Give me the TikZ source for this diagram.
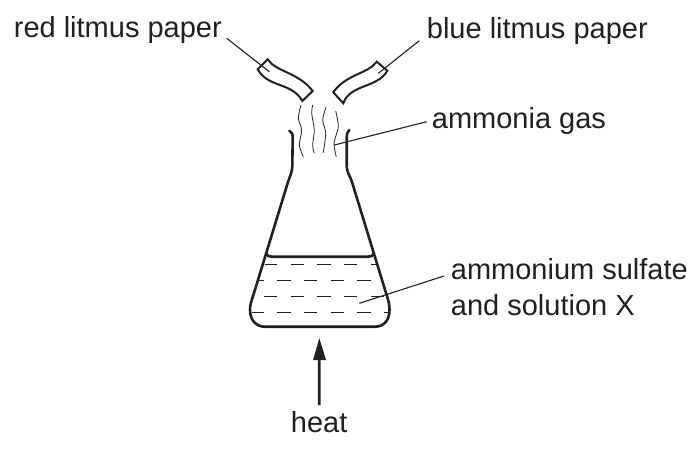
\documentclass[tikz,border=0pt]{standalone}
\usepackage{fontspec}
\setmainfont{Liberation Sans}
\definecolor{inkblack}{HTML}{231F20}
\begin{document}
\begin{tikzpicture}[x=1pt,y=-1pt,
    wall/.style={inkblack,line width=2.6pt,line cap=round,line join=round},
    strip/.style={inkblack,line width=2pt,line join=miter},
    leader/.style={inkblack,line width=1.1pt},
    dashln/.style={inkblack,line width=1pt},
    wisp/.style={inkblack,line width=0.8pt},
    lbl/.style={inkblack,inner sep=0pt,font=\fontsize{29}{36}\selectfont,align=left}]
  \useasboundingbox (0,0) rectangle (700,450);
  %-------------------------------------------------- labels
  \node[lbl,anchor=base east] (lblred) at (222,37.3) {red litmus paper};
  \node[lbl,anchor=base west] (lblblue) at (426.7,38.3) {blue litmus paper};
  \node[lbl,anchor=base west] (lblgas) at (431.7,128.3) {ammonia gas};
  \node[lbl,anchor=west] (lblsol) at (450.7,287) {ammonium sulfate\\and solution X};
  \node[lbl,anchor=base] (lblheat) at (319.2,432.7) {heat};
  %-------------------------------------------------- litmus strips
  \draw[strip] (257.7,69.3) -- (267.7,59.3)
    .. controls (276,72) and (298,72) .. (312.7,91)
    -- (302.3,101)
    .. controls (292,82) and (268,88) .. cycle;
  \draw[strip] (387.3,70.7) -- (376.7,61.7)
    .. controls (368,74) and (346,74) .. (333.3,92.3)
    -- (343.3,103.3)
    .. controls (350,84) and (378,88) .. cycle;
  %-------------------------------------------------- flask
  \draw[wall] (289.3,130.7) .. controls (292,132) and (292.7,134) .. (292.7,138)
    -- (292.3,166) .. controls (292.3,172) and (290,176) .. (288,182)
    -- (254,293) .. controls (251,302) and (250,305) .. (250,310)
    .. controls (250,320) and (256,326.7) .. (265,326.7)
    -- (375,326.7) .. controls (384,326.7) and (389.5,320) .. (389.5,310)
    .. controls (389.5,305) and (389,302) .. (386,293)
    -- (352,182) .. controls (350,176) and (346.7,172) .. (346.7,166)
    -- (346.7,138) .. controls (346.7,134) and (347.5,132) .. (349.3,130);
  % surface of the liquid
  \draw[wall] (266,253.3) .. controls (267,256) and (269,256.7) .. (272,256.7)
    -- (368,256.7) .. controls (371,256.7) and (373,256) .. (374,253.3);
  \foreach \yy in {264.3,296.3}{
    \draw[dashln] (290.7,\yy) -- +(13.3,0) (317.3,\yy) -- +(13.3,0) (344,\yy) -- +(13.3,0);
  }
  \draw[dashln] (265,264.3) -- +(12.3,0) (371,264.3) -- +(5,0);
  \draw[dashln] (264,296.3) -- +(13.3,0) (371,296.3) -- +(13,0);
  \foreach \yy in {280.7,312.3}{
    \draw[dashln] (277.3,\yy) -- +(13.3,0) (304,\yy) -- +(13.3,0)
      (330.7,\yy) -- +(13.3,0) (357.3,\yy) -- +(13.3,0);
  }
  \draw[dashln] (258.3,280.7) -- +(5.7,0);
  \draw[dashln] (251.7,312.3) -- +(12.3,0) (384,312.3) -- +(4.3,0);
  %-------------------------------------------------- ammonia gas
  \draw[wisp] plot[smooth] coordinates {(301,105) (298.3,118.3) (301.7,130) (299.3,145) (303.3,156.7)};
  \draw[wisp] plot[smooth] coordinates {(312.7,105) (311.7,113.3) (314.3,130) (312.7,145) (314.3,153.3)};
  \draw[wisp] plot[smooth] coordinates {(326,107.3) (322.7,120) (325.7,133.3) (323.3,152.7)};
  \draw[wisp] plot[smooth] coordinates {(335.7,111) (338.3,126.7) (334,143.3) (336.3,156.7)};
  %-------------------------------------------------- leaders and arrow
  \coordinate (redend) at (269.3,71.7);
  \coordinate (blueend) at (378.3,73.3);
  \coordinate (gasend) at (334.3,145);
  \coordinate (solend) at (359.3,303.3);
  \coordinate (heatend) at (319.3,338.3);
  \draw[leader] ([xshift=4.7pt,yshift=-1pt]lblred.base east) -- (redend);
  \draw[leader] ([xshift=-7.4pt,yshift=-2.4pt]lblblue.base west) -- (blueend);
  \draw[leader] ([xshift=-5pt,yshift=6.6pt]lblgas.base west) -- (gasend);
  \draw[leader] ([xshift=-6.7pt,yshift=11pt]lblsol.west) -- (solend);
  \fill[inkblack] (heatend) -- (326,360) -- (313,360) -- cycle;
  \draw[inkblack,line width=2.6pt] ([yshift=27.7pt]lblheat.base) -- ([yshift=-20pt]heatend);
\end{tikzpicture}
\end{document}
